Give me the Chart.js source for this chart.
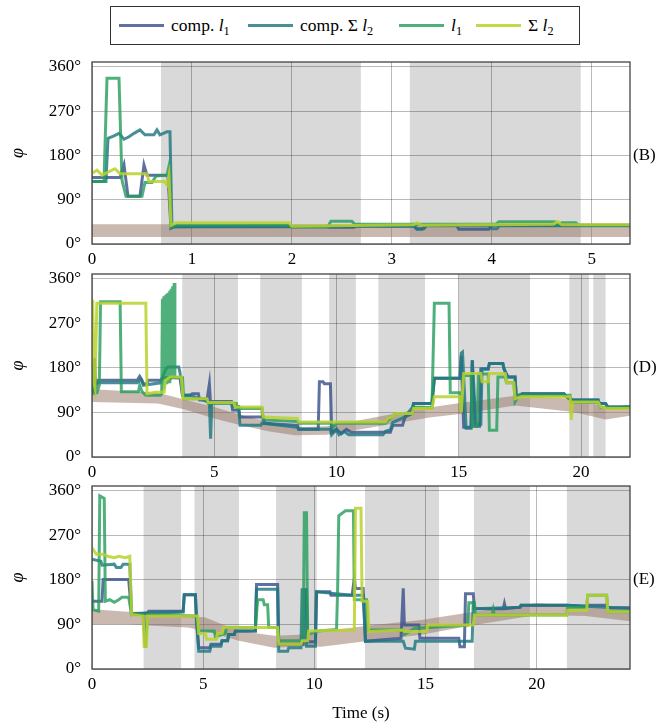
<!DOCTYPE html>
<html>
<head>
<meta charset="utf-8">
<script src="https://cdn.jsdelivr.net/npm/chart.js@4.4.1/dist/chart.umd.min.js"></script>
<style>
  body { margin: 0; background: #fff; width: 659px; height: 728px; position: relative; overflow: hidden; font-family: "Liberation Serif", serif; }
  canvas { position: absolute; left: 0; }
  #legend { position: absolute; left: 110px; top: 6px; width: 470px; height: 39px; border: 1.3px solid #333; box-sizing: border-box;
            display: flex; align-items: center; padding-left: 8px; font-size: 17.5px; color: #000; }
  .item { display: flex; align-items: center; }
  .item:nth-child(1) { width: 129px; }
  .item:nth-child(2) { width: 151px; }
  .item:nth-child(3) { width: 77px; }
  .swatch { width: 45px; height: 3.5px; margin-right: 7px; }
  sub { font-size: 0.7em; vertical-align: -0.3em; line-height: 0; }
</style>
</head>
<body>
<div id="legend"></div>
<canvas id="chartB" width="659" height="225" style="top:50px"></canvas>
<canvas id="chartD" width="659" height="222" style="top:264px"></canvas>
<canvas id="chartE" width="659" height="252" style="top:476px"></canvas>
<script>
// series order: comp. l1, comp. Σ l2, l1, Σ l2
const legendLabels = ['comp. <i>l</i><sub>1</sub>', 'comp. Σ <i>l</i><sub>2</sub>', '<i>l</i><sub>1</sub>', 'Σ <i>l</i><sub>2</sub>'];
const colors = ['rgba(59,82,139,0.82)', 'rgba(30,120,128,0.82)', 'rgba(36,156,91,0.8)', 'rgba(187,209,45,0.85)'];
const yTicks = [0, 90, 180, 270, 360];

// ---- panel (B)
const bTicks = [0, 1, 2, 3, 4, 5];
const bShade = [[0.69, 2.69], [3.18, 4.89]];
const bBandT = [0, 5.4];
const bBandHi = [40, 40];
const bBandLo = [14, 14];
const bComp1 = [[0,135],[0.28,135],[0.32,161],[0.36,97],[0.48,97],[0.52,161],[0.55,140],[0.76,140],[0.79,32],[0.82,35],[2.35,35],[2.38,34],[2.62,34],[2.65,38],[3.22,38],[3.25,31],[3.32,31],[3.35,38],[3.65,38],[3.67,30],[3.97,30],[4.0,38],[5.4,38]];
const bCompSum = [[0,127],[0.14,127],[0.16,215],[0.22,220],[0.27,225],[0.32,213],[0.37,218],[0.42,225],[0.48,232],[0.53,222],[0.62,222],[0.65,232],[0.68,222],[0.75,228],[0.78,228],[0.8,35],[1.97,37],[2.0,35],[3.22,36],[3.25,30],[3.3,30],[3.33,37],[3.98,37],[4.0,31],[4.05,31],[4.08,37],[5.4,37]];
const bL1 = [[0,127],[0.12,127],[0.15,337],[0.27,337],[0.3,130],[0.34,97],[0.5,97],[0.53,125],[0.6,125],[0.64,138],[0.75,140],[0.77,158],[0.79,33],[0.83,38],[1.97,38],[2.0,35],[2.36,35],[2.39,46],[2.6,46],[2.63,40],[4.04,40],[4.07,45],[4.63,45],[4.66,38],[4.7,43],[4.84,43],[4.87,38],[5.4,38]];
const bSum2 = [[0,144],[0.05,150],[0.1,140],[0.15,145],[0.23,153],[0.28,143],[0.55,143],[0.57,127],[0.72,127],[0.75,120],[0.77,140],[0.79,38],[0.84,43],[1.97,43],[2.0,36],[3.22,39],[3.25,43],[3.3,38],[4.62,40],[4.66,46],[4.7,39],[5.4,39]];

// ---- panel (D)
const dTicks = [0, 5, 10, 15, 20];
const dShade = [[3.69, 5.97], [6.88, 8.58], [9.70, 10.79], [11.71, 13.62], [15.0, 17.91], [19.52, 20.32], [20.5, 21.0]];
const dBandT = [0, 2.7, 3.8, 5.0, 6.0, 7.2, 8.3, 9.6, 11, 12.4, 13.8, 15.2, 17.3, 19.7, 21.0, 22.1];
const dBandHi = [137, 130, 116, 101, 86, 72, 60, 62, 75, 88, 100, 110, 124, 118, 101, 106];
const dBandLo = [111, 108, 96, 78, 65, 52, 44, 45, 56, 68, 80, 88, 104, 91, 76, 84];
const dComp1 = [[0,160],[0.05,130],[0.1,200],[0.15,140],[0.25,155],[1.85,155],[1.95,163],[2.05,155],[2.1,148],[2.25,148],[2.3,155],[2.8,155],[2.9,160],[3.6,160],[3.7,125],[4.0,125],[4.1,128],[4.35,128],[4.4,115],[4.7,115],[4.8,148],[4.85,105],[4.95,112],[5.7,112],[5.75,95],[6.0,95],[6.05,81],[7.0,81],[7.05,68],[8.4,64],[8.45,56],[9.25,56],[9.3,152],[9.45,152],[9.5,148],[9.75,148],[9.8,50],[10.0,56],[10.2,47],[10.4,56],[10.6,50],[12.2,50],[12.3,64],[12.7,64],[12.8,81],[13.1,88],[13.15,108],[13.9,108],[14.0,159],[15.05,159],[15.1,205],[15.2,60],[15.5,60],[15.55,195],[15.65,62],[15.85,62],[15.9,178],[16.2,178],[16.25,189],[16.8,189],[16.85,178],[17.0,162],[17.3,162],[17.35,122],[17.6,128],[19.3,128],[19.4,122],[19.6,115],[20.7,115],[20.75,108],[21.0,108],[21.1,101],[22.1,101]];
const dCompSum = [[0,130],[0.05,170],[0.1,150],[0.25,150],[1.85,150],[2.0,157],[2.1,145],[2.8,150],[3.0,176],[3.1,182],[3.55,182],[3.6,170],[3.7,125],[4.0,125],[4.7,112],[4.8,112],[4.85,37],[4.9,110],[5.7,110],[5.75,102],[6.0,102],[6.05,64],[6.9,64],[6.95,68],[8.4,60],[8.45,56],[9.75,56],[9.8,45],[10.0,56],[10.1,45],[10.3,52],[10.5,45],[11.9,45],[12.0,52],[12.2,55],[12.3,70],[12.8,81],[13.0,94],[13.1,100],[13.15,108],[13.9,108],[14.0,159],[15.05,159],[15.1,210],[15.15,212],[15.3,58],[15.5,58],[15.55,196],[15.7,66],[15.9,66],[15.95,178],[16.2,178],[16.25,189],[16.8,189],[16.85,178],[17.0,162],[17.3,162],[17.35,122],[17.6,128],[19.3,128],[19.4,122],[19.6,115],[20.7,115],[20.75,108],[21.0,108],[21.1,101],[22.1,101]];
const dL1 = [[0,125],[0.05,190],[0.1,130],[0.2,130],[0.3,145],[0.35,314],[1.15,314],[1.2,132],[1.9,132],[1.95,145],[2.05,132],[2.2,125],[2.8,125],[2.85,128],[2.88,320],[2.91,140],[2.94,325],[2.97,145],[3.0,327],[3.03,150],[3.06,330],[3.09,150],[3.12,332],[3.15,152],[3.18,336],[3.21,155],[3.24,340],[3.27,158],[3.3,345],[3.33,160],[3.36,352],[3.39,165],[3.42,160],[3.7,160],[3.75,118],[4.7,118],[4.75,108],[5.9,108],[5.95,98],[6.95,98],[7.0,75],[8.4,72],[8.45,68],[9.8,68],[9.85,60],[10.0,68],[12.0,68],[12.1,75],[12.3,81],[12.4,88],[13.1,88],[13.15,100],[13.9,100],[14.0,311],[14.6,311],[14.65,130],[15.05,130],[15.1,90],[15.2,165],[15.5,165],[15.55,62],[15.75,62],[15.8,168],[16.2,168],[16.25,54],[16.55,54],[16.6,162],[16.9,162],[16.95,150],[17.25,150],[17.3,112],[17.45,125],[19.55,125],[19.6,110],[20.7,110],[20.8,100],[22.1,100]];
const dSum2 = [[0,200],[0.03,318],[0.08,150],[0.12,140],[0.2,311],[2.2,311],[2.25,128],[2.6,131],[2.95,131],[3.0,155],[3.2,162],[3.65,162],[3.72,118],[4.7,118],[4.75,110],[5.8,110],[5.85,101],[6.95,101],[7.0,81],[8.4,78],[8.45,71],[12.0,71],[12.1,78],[12.3,81],[12.4,88],[13.1,88],[13.15,98],[13.9,98],[14.0,122],[15.05,122],[15.1,90],[15.2,169],[15.9,169],[15.95,152],[16.2,152],[16.25,169],[16.9,169],[16.95,150],[17.25,150],[17.3,118],[17.55,122],[19.55,122],[19.6,75],[19.65,111],[20.7,111],[20.8,101],[21.1,98],[22.1,98]];

// ---- panel (E)
const eTicks = [0, 5, 10, 15, 20];
const eShade = [[2.32, 4.01], [4.61, 6.61], [8.28, 10.11], [12.28, 15.61], [17.18, 19.7], [21.36, 24.3]];
const eBandT = [0, 1.6, 4.3, 5.1, 6.6, 8.2, 9.6, 10.3, 12.5, 14.8, 17.2, 20, 22.2, 24.3];
const eBandHi = [121, 116, 107, 104, 77, 67, 70, 76, 88, 99, 116, 133, 127, 119];
const eBandLo = [90, 90, 84, 77, 57, 43, 46, 45, 57, 69, 89, 109, 107, 96];
const eComp1 = [[0,137],[0.45,137],[0.5,181],[1.65,181],[1.78,110],[2.5,113],[2.55,117],[4.1,117],[4.15,150],[4.65,150],[4.7,103],[4.8,43],[5.3,43],[5.35,50],[5.8,50],[5.85,57],[6.1,57],[6.15,70],[6.4,70],[6.45,77],[7.35,77],[7.4,171],[8.35,171],[8.4,50],[9.5,50],[9.55,160],[9.65,160],[9.7,55],[10.05,55],[10.1,156],[10.7,156],[10.75,149],[11.7,149],[11.8,183],[11.85,163],[12.2,163],[12.3,56],[13.9,62],[14.0,163],[14.05,89],[14.7,89],[14.75,62],[16.5,62],[16.55,45],[16.75,45],[16.8,152],[17.15,152],[17.2,122],[18.5,122],[18.55,132],[18.6,122],[19.26,125],[19.3,129],[21.35,129],[22.25,127],[22.3,129],[23.15,129],[23.2,124],[24.3,124]];
const eCompSum = [[0,222],[0.4,218],[0.45,210],[1.0,212],[1.1,205],[1.3,205],[1.4,212],[1.7,212],[1.78,112],[4.1,115],[4.15,150],[4.65,150],[4.7,100],[4.8,36],[5.3,36],[5.35,46],[5.8,46],[5.85,57],[6.1,57],[6.15,70],[6.4,70],[6.45,77],[7.35,77],[7.4,161],[8.35,161],[8.4,36],[8.8,36],[8.85,43],[9.4,43],[9.45,160],[9.6,160],[9.65,46],[10.05,46],[10.1,156],[11.7,149],[12.2,149],[12.3,56],[14.0,56],[14.1,42],[14.5,40],[14.55,56],[17.1,56],[17.15,137],[17.2,122],[19.26,125],[19.3,129],[21.35,129],[24.3,122]];
const eL1 = [[0,178],[0.05,120],[0.3,117],[0.35,350],[0.55,345],[0.6,137],[0.8,140],[1.0,135],[1.2,140],[1.35,145],[1.65,145],[1.78,110],[2.3,110],[2.4,43],[2.5,110],[4.7,107],[4.8,77],[5.5,77],[5.55,65],[6.0,72],[6.05,84],[7.35,84],[7.45,140],[7.7,140],[7.75,130],[7.9,130],[7.95,84],[8.35,84],[8.4,57],[9.5,57],[9.55,316],[9.65,316],[9.7,70],[10.2,77],[11.0,80],[11.05,163],[11.1,310],[11.4,320],[11.76,320],[11.8,140],[12.35,140],[12.4,79],[14.0,79],[14.05,70],[14.5,82],[16.9,89],[16.95,134],[17.2,134],[17.25,109],[18.0,109],[18.05,120],[18.1,109],[21.35,109],[21.4,125],[22.25,125],[22.3,149],[23.15,149],[23.2,116],[24.3,116]];
const eSum2 = [[0,245],[0.2,232],[0.5,232],[0.7,228],[1.0,225],[1.2,228],[1.5,225],[1.7,228],[1.78,110],[2.3,107],[2.35,46],[2.45,46],[2.5,107],[4.75,107],[4.8,72],[5.1,72],[5.15,60],[5.6,60],[5.65,72],[5.85,72],[5.9,84],[8.35,84],[8.4,50],[9.4,50],[9.45,57],[9.7,57],[9.75,77],[11.8,79],[11.85,325],[12.1,325],[12.15,137],[12.4,137],[12.45,76],[14.0,79],[14.05,76],[15.06,76],[15.1,89],[17.15,89],[17.2,109],[21.35,109],[21.4,119],[22.25,119],[22.3,149],[23.15,149],[23.2,116],[24.3,116]];

const font = { family: '"Liberation Serif", serif', size: 17 };
const gridColor = 'rgba(0,0,0,0.27)';
const bandColor = 'rgba(150,115,100,0.5)';

document.getElementById('legend').innerHTML = legendLabels.map((l, i) =>
  `<span class="item"><span class="swatch" style="background:${colors[i]}"></span><span>${l}</span></span>`).join('');

const panelDeco = {
  id: 'panelDeco',
  beforeDraw(chart, args, opts) {
    const { ctx, chartArea: a, scales: { x } } = chart;
    ctx.save();
    ctx.fillStyle = '#d9d9d9';
    opts.shade.forEach(([s, e]) => {
      const x0 = Math.max(x.getPixelForValue(s), a.left);
      const x1 = Math.min(x.getPixelForValue(e), a.right);
      ctx.fillRect(x0, a.top, x1 - x0, a.bottom - a.top);
    });
    ctx.restore();
  },
  afterDraw(chart, args, opts) {
    const { ctx, chartArea: a, scales: { y } } = chart;
    ctx.save();
    ctx.strokeStyle = '#444';
    ctx.lineWidth = 1.3;
    ctx.strokeRect(a.left, a.top, a.right - a.left, a.bottom - a.top);
    ctx.fillStyle = '#000';
    ctx.font = '17px "Liberation Serif", serif';
    ctx.textBaseline = 'middle';
    ctx.fillText(opts.label, a.right + 3, y.getPixelForValue(180));
    ctx.restore();
  }
};

function toPts(arr) { return arr.map(([x, y]) => ({ x, y })); }

function makeChart(id, p) {
  const datasets = [
    { data: p.bandT.map((t, i) => ({ x: t, y: p.bandHi[i] })), borderWidth: 0, borderColor: 'transparent',
      backgroundColor: bandColor, fill: '+1', pointRadius: 0, order: 10 },
    { data: p.bandT.map((t, i) => ({ x: t, y: p.bandLo[i] })), borderWidth: 0, borderColor: 'transparent',
      fill: false, pointRadius: 0, order: 11 }
  ];
  p.series.forEach((s, i) => {
    datasets.push({ data: toPts(s), borderColor: colors[i], borderWidth: 3, pointRadius: 0,
      fill: false, tension: 0, borderJoinStyle: 'miter', order: 4 - i });
  });
  return new Chart(document.getElementById(id), {
    type: 'line',
    data: { datasets },
    options: {
      responsive: false,
      animation: false,
      layout: { padding: { left: 3, right: 29, top: p.top, bottom: 0 } },
      plugins: {
        legend: { display: false },
        tooltip: { enabled: false },
        panelDeco: { shade: p.shade, label: p.label }
      },
      scales: {
        x: {
          type: 'linear', min: 0, max: p.xMax,
          afterBuildTicks: s => { s.ticks = p.xTicks.map(v => ({ value: v })); },
          afterFit: s => { s.height = p.xH; s.paddingLeft = 0; s.paddingRight = 0; },
          grid: { color: gridColor, drawTicks: false },
          border: { display: false },
          ticks: { color: '#000', font, padding: 5, maxRotation: 0 },
          title: { display: !!p.xTitle, text: p.xTitle || '', color: '#000', font, padding: { top: 4, bottom: 4 } }
        },
        y: {
          min: 0, max: 370,
          afterBuildTicks: s => { s.ticks = yTicks.map(v => ({ value: v })); },
          afterFit: s => { s.width = 89; s.paddingTop = 0; s.paddingBottom = 0; },
          grid: { color: gridColor, drawTicks: false },
          border: { display: false },
          ticks: { color: '#000', font, padding: 11, callback: v => v + '°' },
          title: { display: true, text: 'φ', color: '#000', font: { family: '"Liberation Serif", serif', size: 18, style: 'italic' } }
        }
      }
    },
    plugins: [panelDeco]
  });
}

makeChart('chartB', { top: 12, xH: 31, xMax: 5.383, xTicks: bTicks, shade: bShade, label: '(B)',
  bandT: bBandT, bandHi: bBandHi, bandLo: bBandLo, series: [bComp1, bCompSum, bL1, bSum2] });
makeChart('chartD', { top: 10, xH: 29, xMax: 22.0, xTicks: dTicks, shade: dShade, label: '(D)',
  bandT: dBandT, bandHi: dBandHi, bandLo: dBandLo, series: [dComp1, dCompSum, dL1, dSum2] });
makeChart('chartE', { top: 10, xH: 59, xMax: 24.2, xTicks: eTicks, shade: eShade, label: '(E)', xTitle: 'Time (s)',
  bandT: eBandT, bandHi: eBandHi, bandLo: eBandLo, series: [eComp1, eCompSum, eL1, eSum2] });
</script>
</body>
</html>
